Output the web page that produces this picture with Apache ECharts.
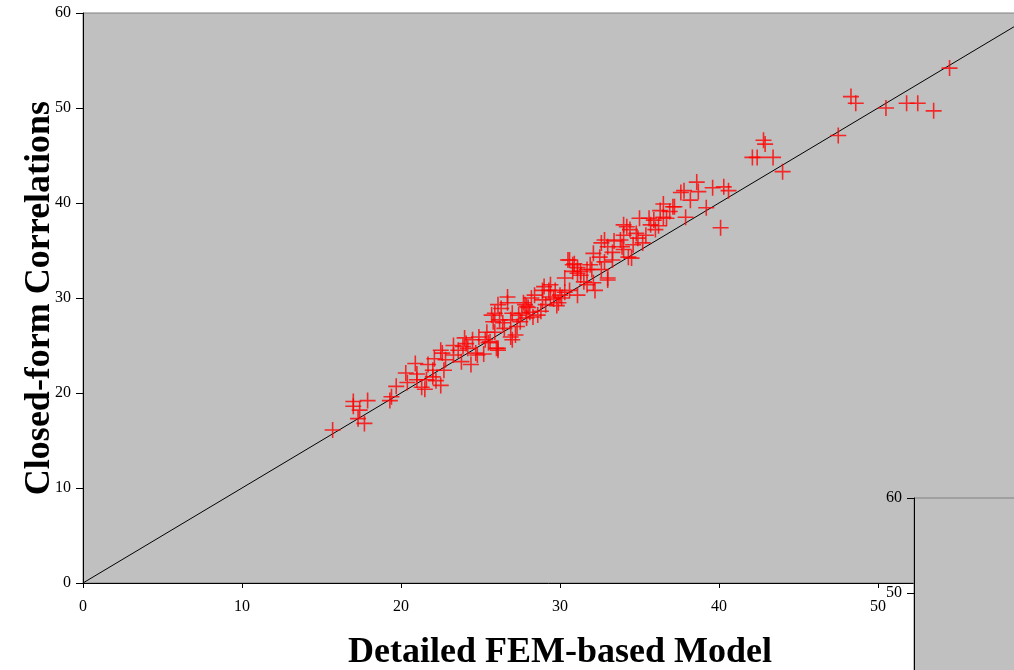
<!DOCTYPE html>
<html>
<head>
<meta charset="utf-8">
<script src="https://cdn.jsdelivr.net/npm/echarts@6/dist/echarts.min.js"></script>
<style>
  body { margin: 0; background: #fff; }
  #chart { width: 1014px; height: 670px; }
</style>
</head>
<body>
<div id="chart"></div>
<script>
// axis ticks
const xTicks = [0, 10, 20, 30, 40, 50, 60]
const yTicks = [0, 10, 20, 30, 40, 50, 60]

// FEM-based model values (x) and closed-form correlation values (y)
const femValues = [
  15.7, 17.0, 17.0, 17.4, 17.9, 17.3, 17.7, 19.3, 19.4, 19.7,
  20.3, 20.4, 20.9, 21.0, 21.3, 21.5, 21.7, 22.0, 22.0, 22.2,
  22.5, 22.7, 22.5, 22.6, 23.3, 23.3, 23.8, 24.0, 24.2, 24.4,
  24.7, 25.2, 25.5, 26.1, 24.5, 24.8, 25.4, 25.6, 25.9, 25.9,
  26.1, 26.2, 26.1, 26.4, 26.7, 26.7, 26.9, 27.0, 27.0, 27.3,
  27.7, 27.6, 28.0, 28.3, 28.6, 28.4, 28.9, 28.9, 29.4, 29.4,
  29.7, 29.9, 30.0, 30.3, 30.6, 31.1, 31.5, 31.1, 36.5, 37.1,
  35.0, 35.9, 36.5, 35.7, 36.0, 34.0, 34.4, 34.8, 34.0, 34.9,
  35.2, 32.8, 32.6, 33.0, 33.9, 33.3, 34.0, 34.3, 32.1, 32.5,
  32.8, 33.3, 30.6, 30.8, 31.1, 31.7, 32.0, 32.6, 33.0, 31.3,
  32.2, 31.7, 38.6, 38.7, 39.6, 40.3, 40.6, 37.6, 39.2, 40.1,
  37.2, 37.9, 36.7, 54.5, 48.3, 48.6, 50.5, 51.8, 52.5, 53.5,
  47.5, 42.8, 42.9, 42.1, 42.4, 43.4, 44.0, 27.5, 27.9, 28.1,
  29.1, 29.3, 30.1, 27.2, 26.5, 25.7, 25.3, 22.8, 23.6, 24.1,
  33.8, 34.6, 35.4, 36.2, 38.2, 36.9, 29.8, 21.6, 30.5, 33.0,
  34.5, 27.9, 26.9, 26.0, 30.8, 31.3, 32.1, 27.4, 27.8, 28.8,
  29.6, 30.3, 26.3, 25.8, 24.9, 23.9, 22.1, 21.0, 31.9, 33.4,
  34.2, 35.6, 36.3, 37.8, 30.9, 29.0, 28.2
]
const closedFormValues = [
  16.1, 19.1, 18.6, 18.2, 19.2, 17.3, 16.8, 19.2, 19.6, 20.7,
  22.1, 21.1, 23.1, 21.4, 20.6, 20.4, 23.0, 22.4, 21.7, 21.3,
  20.8, 22.4, 24.5, 24.2, 25.0, 24.0, 23.3, 25.8, 24.7, 23.0,
  24.2, 24.1, 25.3, 24.7, 25.6, 24.0, 26.4, 25.4, 26.4, 28.4,
  29.3, 27.7, 24.5, 27.4, 29.5, 30.1, 27.7, 25.6, 28.4, 27.0,
  29.5, 28.4, 29.0, 28.0, 28.2, 30.3, 30.8, 29.8, 30.1, 31.4,
  30.8, 29.5, 30.3, 32.1, 30.8, 32.6, 31.7, 30.3, 39.9, 39.6,
  38.4, 38.2, 38.5, 37.7, 37.2, 37.7, 37.2, 36.8, 36.6, 36.3,
  35.8, 36.1, 35.8, 35.4, 35.4, 34.8, 35.1, 34.3, 34.7, 34.3,
  33.8, 34.0, 34.0, 33.5, 33.2, 33.0, 33.0, 33.0, 32.1, 32.4,
  30.8, 31.4, 42.2, 41.2, 41.6, 41.7, 41.3, 41.1, 39.5, 37.4,
  39.6, 38.5, 38.4, 54.2, 51.2, 50.5, 50.0, 50.5, 50.5, 49.7,
  47.1, 46.6, 46.2, 44.8, 44.8, 44.8, 43.3, 27.5, 27.9, 28.5,
  29.3, 30.8, 30.0, 26.1, 26.8, 28.2, 25.6, 23.5, 24.5, 25.2,
  36.1, 35.6, 36.6, 37.6, 40.3, 39.1, 29.2, 21.4, 34.0, 31.9,
  34.2, 29.1, 25.9, 24.7, 32.8, 32.8, 31.6, 28.2, 29.3, 28.6,
  29.9, 30.6, 28.9, 27.5, 25.9, 24.9, 23.6, 22.0, 33.5, 36.0,
  37.5, 38.4, 39.2, 41.3, 33.6, 31.2, 30.0
]

// line of equality
const diagonal = [[0, 0], [60, 60]]

const points = femValues.map((x, i) => [x, closedFormValues[i]])

const serif = 'Liberation Serif'
const tickLabel = { color: '#000', fontFamily: serif, fontSize: 16 }

const chart = echarts.init(document.getElementById('chart'))

chart.setOption({
  animation: false,
  backgroundColor: '#fff',
  grid: [
    {
      left: 83, top: 13, width: 954, height: 570,
      outerBoundsMode: 'none',
      show: true, backgroundColor: '#c0c0c0',
      borderColor: '#808080', borderWidth: 1
    },
    {
      left: 914, top: 498, width: 954, height: 570, z: 5,
      outerBoundsMode: 'none',
      show: true, backgroundColor: '#c0c0c0',
      borderColor: '#808080', borderWidth: 1
    }
  ],
  xAxis: [
    {
      type: 'value', gridIndex: 0,
      min: xTicks[0], max: xTicks[xTicks.length - 1], interval: 10,
      name: 'Detailed FEM-based Model',
      nameLocation: 'middle', nameGap: 52,
      nameMoveOverlap: false,
      nameTextStyle: { color: '#000', fontFamily: serif, fontSize: 36, fontWeight: 'bold' },
      axisLine: { show: true, lineStyle: { color: '#000', width: 1 } },
      axisTick: { show: true, length: 5, lineStyle: { color: '#000' } },
      axisLabel: { ...tickLabel, margin: 16 },
      splitLine: { show: false }
    },
    {
      type: 'value', gridIndex: 1, z: 6,
      min: xTicks[0], max: xTicks[xTicks.length - 1], interval: 10,
      axisLine: { show: true, lineStyle: { color: '#000' } },
      axisTick: { show: true, length: 5 },
      axisLabel: { ...tickLabel, margin: 16 },
      splitLine: { show: false }
    }
  ],
  yAxis: [
    {
      type: 'value', gridIndex: 0,
      min: yTicks[0], max: yTicks[yTicks.length - 1], interval: 10,
      name: 'Closed-form Correlations',
      nameLocation: 'middle', nameGap: 25,
      nameMoveOverlap: false,
      nameTextStyle: { color: '#000', fontFamily: serif, fontSize: 36, fontWeight: 'bold' },
      axisLine: { show: true, lineStyle: { color: '#000', width: 1 } },
      axisTick: { show: true, length: 7, lineStyle: { color: '#000' } },
      axisLabel: { ...tickLabel, margin: 12 },
      splitLine: { show: false }
    },
    {
      type: 'value', gridIndex: 1, z: 6,
      min: yTicks[0], max: yTicks[yTicks.length - 1], interval: 10,
      axisLine: { show: true, lineStyle: { color: '#000', width: 1 } },
      axisTick: { show: true, length: 7, lineStyle: { color: '#000' } },
      axisLabel: { ...tickLabel, margin: 12 },
      splitLine: { show: false }
    }
  ],
  series: [
    {
      type: 'line',
      xAxisIndex: 0, yAxisIndex: 0,
      data: diagonal,
      symbol: 'none',
      lineStyle: { color: '#000', width: 1 },
      z: 1
    },
    {
      type: 'scatter',
      xAxisIndex: 0, yAxisIndex: 0,
      data: points,
      symbol: 'path://M0,5L10,5M5,0L5,10',
      symbolSize: 16,
      itemStyle: { color: 'transparent', borderColor: '#ff0000', borderWidth: 1.6 },
      z: 3
    }
  ]
})
</script>
</body>
</html>
